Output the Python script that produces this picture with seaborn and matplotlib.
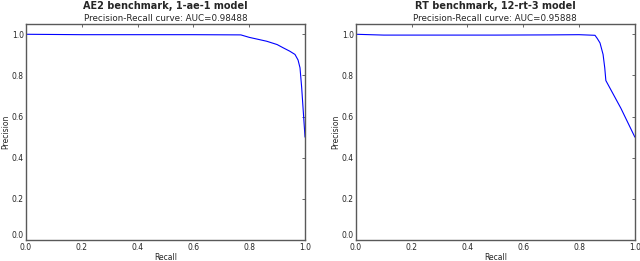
import pandas as pd
import seaborn as sns
import matplotlib
matplotlib.use('Agg')
import matplotlib.pyplot as plt

# values
ae_recall = [0.0, 0.2, 0.4, 0.6, 0.77, 0.80, 0.83, 0.863, 0.90, 0.922, 0.945, 0.964, 0.975, 0.982, 0.988, 0.992, 0.996, 1.0]
ae_precision = [1.0, 0.998, 0.998, 0.998, 0.997, 0.985, 0.976, 0.966, 0.950, 0.934, 0.918, 0.902, 0.875, 0.837, 0.741, 0.66, 0.58, 0.5]

rt_recall = [0.0, 0.1, 0.3, 0.5, 0.7, 0.8, 0.857, 0.865, 0.875, 0.886, 0.892, 0.896, 0.95, 1.0]
rt_precision = [1.0, 0.996, 0.996, 0.996, 0.997, 0.998, 0.995, 0.98, 0.958, 0.902, 0.837, 0.775, 0.64, 0.5]

titles = ['AE2 benchmark, 1-ae-1 model', 'RT benchmark, 12-rt-3 model']
subtitles = ['Precision-Recall curve: AUC=0.98488', 'Precision-Recall curve: AUC=0.95888']

sns.set_style('white')
plt.rcParams['font.family'] = ['DejaVu Sans']
plt.rcParams['xtick.direction'] = 'in'
plt.rcParams['ytick.direction'] = 'in'

if __name__ == '__main__':
    fig = plt.figure(figsize=(6.4, 2.61), dpi=100)
    ax1 = fig.add_axes([0.0406, 0.0805, 0.436, 0.8276])
    ax2 = fig.add_axes([0.556, 0.0805, 0.436, 0.8276])

    curves = [(ae_recall, ae_precision), (rt_recall, rt_precision)]
    for ax, (r, p), t, st in zip([ax1, ax2], curves, titles, subtitles):
        df = pd.DataFrame({'Recall': r, 'Precision': p})
        sns.lineplot(x='Recall', y='Precision', data=df, sort=False, color='#0000ff', lw=0.8, ax=ax)
        ax.set_xlim(0, 1)
        ax.set_ylim(0, 1.05)
        ax.set_xticks([0, 0.2, 0.4, 0.6, 0.8, 1.0])
        ax.set_yticks([0, 0.2, 0.4, 0.6, 0.8, 1.0])
        ax.set_xticklabels(['0.0', '0.2', '0.4', '0.6', '0.8', '1.0'])
        ax.set_yticklabels(['0.0', '0.2', '0.4', '0.6', '0.8', '1.0'])
        ax.tick_params(labelsize=5.5, length=2.5, width=0.6, color='0.3', top=True, right=True, pad=1.5)
        ax.tick_params(axis='x', pad=2.5)
        ax.get_yticklabels()[0].set_va('bottom')
        ax.set_xlabel('Recall', fontsize=5.5, labelpad=0.5)
        ax.set_ylabel('Precision', fontsize=5.5, labelpad=1)
        ax.set_title(st, fontsize=6.3, pad=2)
        bb = ax.get_position()
        fig.text((bb.x0 + bb.x1) / 2, 0.998, t, ha='center', va='top', fontsize=7, fontweight='bold')
        for s in ax.spines.values():
            s.set_color('0.35')
            s.set_linewidth(1.0)

    fig.savefig('out.png', dpi=100)
